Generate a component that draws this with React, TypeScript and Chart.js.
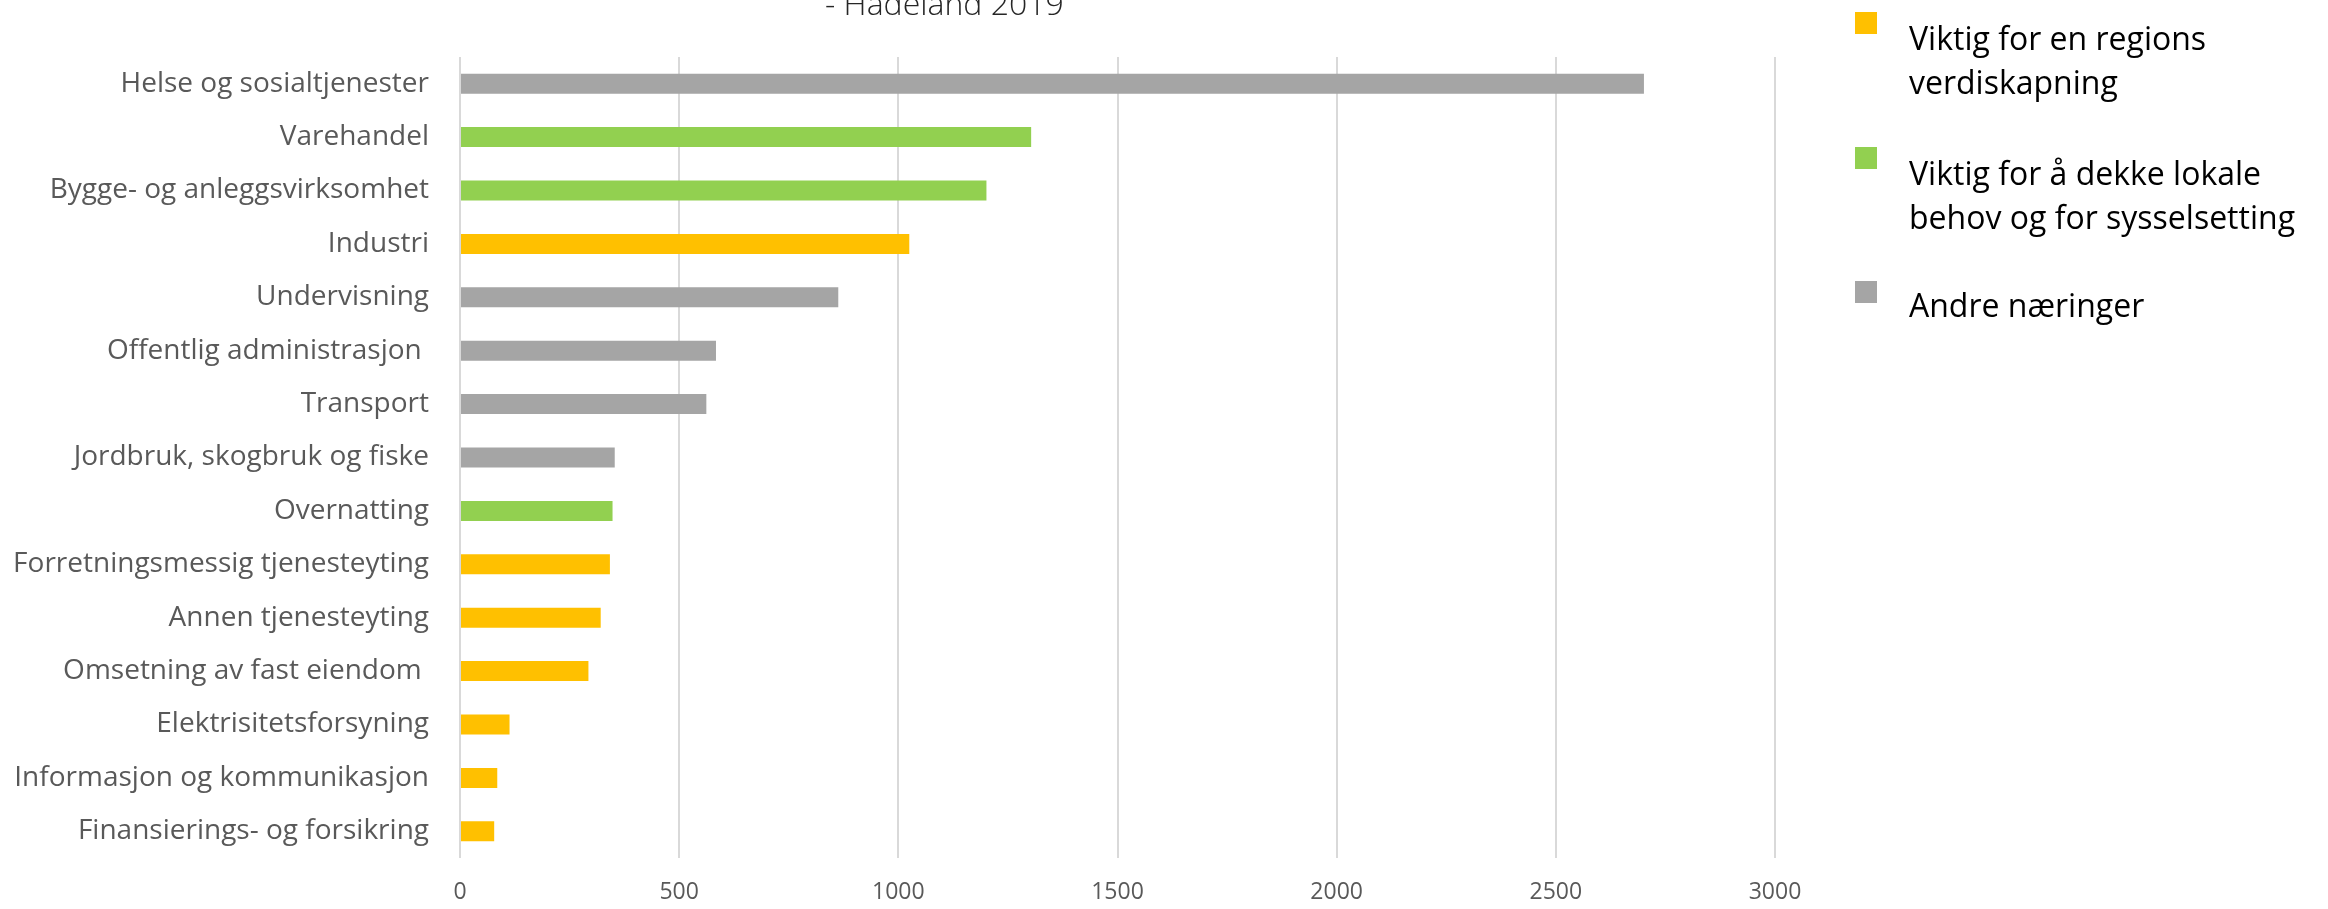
import React, { useEffect, useRef } from "react";
import { Chart, registerables } from "chart.js";

Chart.register(...registerables);

const categories = [
  "Helse og sosialtjenester",
  "Varehandel",
  "Bygge- og anleggsvirksomhet",
  "Industri",
  "Undervisning",
  "Offentlig administrasjon ",
  "Transport",
  "Jordbruk, skogbruk og fiske",
  "Overnatting",
  "Forretningsmessig tjenesteyting",
  "Annen tjenesteyting",
  "Omsetning av fast eiendom ",
  "Elektrisitetsforsyning",
  "Informasjon og kommunikasjon",
  "Finansierings- og forsikring",
];

const regionalValues = [null, null, null, 1025, null, null, null, null, null, 342, 321, 293, 113, 85, 78];
const localValues = [null, 1303, 1201, null, null, null, null, null, 348, null, null, null, null, null, null];
const otherValues = [2701, null, null, null, 863, 584, 562, 353, null, null, null, null, null, null, null];

const seriesNames = [
  ["Viktig for en regions", "verdiskapning"],
  ["Viktig for å dekke lokale", "behov og for sysselsetting"],
  ["Andre næringer"],
];
const seriesColors = ["#FFC000", "#92D050", "#A5A5A5"];

const xTicks = [0, 500, 1000, 1500, 2000, 2500, 3000];
const titleText = "- Hadeland 2019";

const FONT = "'Open Sans', 'Noto Sans', sans-serif";

export default function App() {
  const canvasRef = useRef<HTMLCanvasElement | null>(null);

  useEffect(() => {
    const canvas = canvasRef.current;
    if (!canvas) return;
    const chart = new Chart(canvas, {
      type: "bar",
      data: {
        labels: categories,
        datasets: [
          { label: seriesNames[0].join(" "), data: regionalValues, backgroundColor: seriesColors[0] },
          { label: seriesNames[1].join(" "), data: localValues, backgroundColor: seriesColors[1] },
          { label: seriesNames[2].join(" "), data: otherValues, backgroundColor: seriesColors[2] },
        ],
      },
      options: {
        indexAxis: "y",
        animation: false,
        responsive: false,
        devicePixelRatio: 1,
        datasets: {
          bar: {
            barPercentage: 0.375,
            categoryPercentage: 1,
            borderWidth: 0,
          },
        },
        layout: { padding: { top: 57, right: 553, left: 0, bottom: 0 } },
        plugins: {
          legend: { display: false },
          title: { display: false },
          tooltip: { enabled: false },
        },
        scales: {
          x: {
            stacked: true,
            min: xTicks[0],
            max: xTicks[xTicks.length - 1],
            afterBuildTicks: (scale: any) => {
              scale.ticks = xTicks.map((v) => ({ value: v }));
            },
            afterFit: (scale: any) => {
              scale.height = 51;
            },
            grid: {
              color: "#D9D9D9",
              lineWidth: 2,
              drawTicks: false,
            },
            border: { display: false },
            ticks: {
              padding: 21,
              color: "#595959",
              font: { family: FONT, size: 23 },
              maxRotation: 0,
              callback: (v: any) => String(v),
            },
          },
          y: {
            stacked: true,
            afterFit: (scale: any) => {
              scale.width = 460;
            },
            grid: { display: false, drawTicks: false },
            border: { display: false },
            ticks: {
              autoSkip: false,
              padding: 31,
              color: "#595959",
              font: { family: FONT, size: 28 },
            },
          },
        },
      },
    });
    return () => chart.destroy();
  }, []);

  const legendTops = [16, 151, 283];
  const squareTops = [12, 147, 281];

  return (
    <div
      style={{
        position: "fixed",
        left: 0,
        top: 0,
        width: 2328,
        height: 909,
        background: "#ffffff",
        overflow: "hidden",
      }}
    >
      <canvas
        ref={canvasRef}
        width={2328}
        height={909}
        style={{ position: "absolute", left: 0, top: 0, width: 2328, height: 909 }}
      />
      <div
        style={{
          position: "absolute",
          left: 825,
          top: -13,
          fontFamily: FONT,
          fontSize: 32,
          fontWeight: 300,
          lineHeight: "32px",
          color: "#262626",
          whiteSpace: "nowrap",
        }}
      >
        {titleText}
      </div>
      {seriesNames.map((lines, i) => (
        <React.Fragment key={i}>
          <div
            style={{
              position: "absolute",
              left: 1855,
              top: squareTops[i],
              width: 22,
              height: 22,
              background: seriesColors[i],
            }}
          />
          <div
            style={{
              position: "absolute",
              left: 1909,
              top: legendTops[i],
              fontFamily: FONT,
              fontSize: 32,
              lineHeight: "44px",
              color: "#000000",
              whiteSpace: "nowrap",
            }}
          >
            {lines.map((l, j) => (
              <div key={j}>{l}</div>
            ))}
          </div>
        </React.Fragment>
      ))}
    </div>
  );
}
